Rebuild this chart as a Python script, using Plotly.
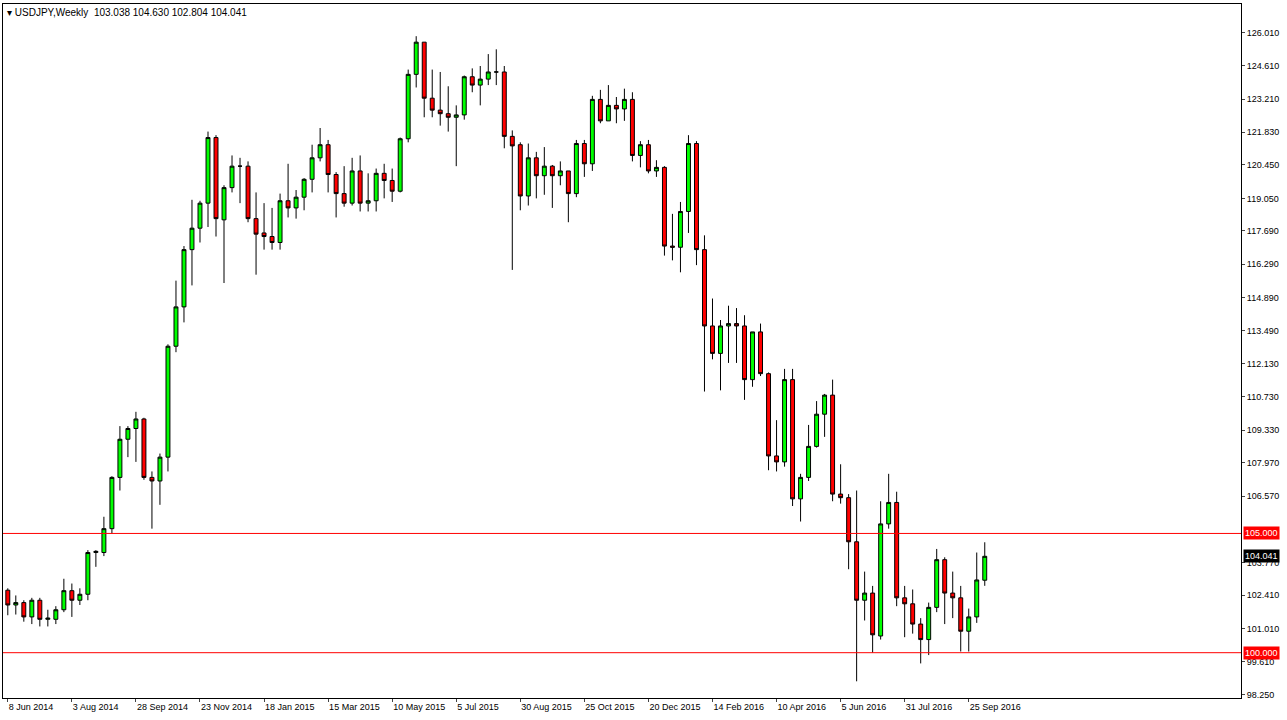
import datetime as dt
import plotly.graph_objects as go

# weekly USDJPY bars, first week 8 Jun 2014
opens = [102.62, 102.0, 102.1, 101.5, 102.2, 101.4, 101.4, 101.8, 102.6, 102.2,
         102.45, 104.2, 104.2, 105.2, 107.35, 108.95, 109.4, 109.8, 107.35, 107.2,
         108.2, 112.85, 114.5, 116.9, 117.8, 118.85, 121.6, 118.15, 119.5, 120.4,
         120.4, 118.2, 117.6, 117.45, 117.2, 118.95, 118.65, 119.1, 119.85, 120.75,
         121.3, 120.05, 119.25, 118.85, 120.2, 118.85, 118.95, 120.1, 119.8, 119.35,
         121.55, 124.25, 125.6, 123.25, 122.75, 122.6, 122.45, 122.55, 124.15, 123.8,
         124.05, 124.35, 124.35, 121.65, 121.3, 119.15, 120.75, 120.0, 120.4, 120.0,
         120.2, 119.25, 121.35, 120.5, 123.2, 122.3, 122.95, 122.8, 123.2, 120.85,
         121.3, 120.2, 120.35, 117.05, 117.0, 118.5, 121.35, 116.9, 113.7, 112.55,
         113.7, 113.8, 113.7, 111.45, 113.45, 111.7, 108.25, 108.0, 111.45, 106.45,
         107.35, 108.65, 110.0, 110.8, 106.65, 106.5, 104.65, 102.2, 102.5, 100.7,
         105.4, 106.3, 102.3, 102.05, 101.2, 100.55, 101.9, 103.9, 102.5, 102.3,
         100.9, 101.5, 103.038]
highs = [102.7, 102.4, 102.2, 102.3, 102.3, 101.8, 101.95, 103.1, 102.9, 102.7,
         104.3, 104.3, 105.7, 107.4, 109.5, 109.5, 110.1, 109.85, 107.6, 108.35,
         112.93, 115.6, 117.05, 118.99, 118.95, 121.85, 121.7, 119.6, 120.85, 120.75,
         120.6, 119.3, 118.85, 118.65, 119.25, 120.5, 119.4, 119.9, 121.3, 122.0,
         121.5, 120.15, 120.4, 120.75, 120.85, 120.1, 120.3, 120.5, 120.3, 121.6,
         124.45, 125.85, 125.6, 124.45, 124.35, 123.75, 122.95, 124.2, 124.5, 124.6,
         125.1, 125.3, 124.6, 121.9, 121.4, 121.35, 121.0, 121.2, 120.45, 120.6,
         120.2, 121.5, 121.5, 123.35, 123.6, 123.8, 123.3, 123.65, 123.5, 121.45,
         121.5, 120.65, 120.4, 118.4, 118.9, 121.7, 121.45, 117.5, 114.85, 113.95,
         114.55, 114.45, 114.15, 113.45, 113.8, 111.75, 109.75, 111.9, 111.9, 107.5,
         109.55, 110.55, 110.85, 111.45, 107.9, 106.65, 106.8, 103.4, 102.8, 106.35,
         107.5, 106.75, 102.8, 102.65, 101.45, 102.1, 104.35, 104.0, 103.4, 102.8,
         101.85, 104.2, 104.63]
lows = [101.57, 101.6, 101.3, 101.2, 101.1, 101.1, 101.2, 101.7, 101.5, 102.0,
        102.2, 103.6, 104.05, 105.0, 106.8, 108.2, 108.0, 107.25, 105.2, 106.2,
        107.6, 112.6, 113.85, 115.4, 117.2, 117.85, 117.45, 115.5, 119.3, 118.85,
        118.05, 115.85, 116.9, 116.9, 116.9, 118.25, 118.2, 118.55, 119.3, 120.6,
        119.3, 118.25, 118.7, 118.75, 118.5, 118.5, 118.5, 119.05, 118.9, 119.3,
        121.4, 123.7, 122.45, 122.45, 122.1, 121.85, 120.4, 122.35, 123.5, 122.95,
        123.8, 123.8, 121.15, 116.05, 118.55, 118.75, 119.05, 119.2, 118.65, 119.6,
        118.05, 119.1, 119.95, 120.2, 122.2, 122.3, 122.2, 122.3, 120.6, 120.35,
        120.1, 119.95, 116.65, 116.45, 115.95, 117.6, 116.25, 110.95, 112.3, 111.0,
        112.15, 112.15, 110.6, 111.15, 111.6, 107.65, 107.6, 107.8, 106.15, 105.5,
        107.2, 108.6, 109.05, 106.35, 106.25, 103.5, 98.8, 101.35, 100.0, 100.55,
        105.2, 101.95, 100.65, 100.8, 99.55, 99.9, 101.7, 101.2, 101.45, 100.05,
        100.05, 101.25, 102.804]
closes = [102.0, 102.1, 101.5, 102.2, 101.4, 101.45, 101.8, 102.6, 102.2, 102.45,
          104.2, 104.25, 105.2, 107.35, 108.95, 109.4, 109.8, 107.35, 107.2, 108.2,
          112.85, 114.5, 116.9, 117.8, 118.85, 121.6, 118.2, 119.5, 120.4, 120.4,
          118.2, 117.55, 117.45, 117.2, 118.95, 118.65, 119.1, 119.85, 120.75, 121.3,
          120.05, 119.25, 118.85, 120.2, 118.85, 118.95, 120.1, 119.8, 119.35, 121.55,
          124.25, 125.6, 123.25, 122.75, 122.6, 122.45, 122.55, 124.15, 123.8, 124.05,
          124.35, 124.35, 121.65, 121.25, 119.15, 120.75, 120.0, 120.4, 120.0, 120.2,
          119.25, 121.35, 120.5, 123.2, 122.3, 122.95, 122.8, 123.2, 120.85, 121.3,
          120.2, 120.35, 117.05, 117.0, 118.5, 121.35, 116.9, 113.7, 112.55, 113.7,
          113.8, 113.7, 111.45, 113.45, 111.7, 108.25, 108.0, 111.45, 106.45, 107.35,
          108.65, 110.0, 110.8, 106.65, 106.5, 104.65, 102.2, 102.5, 100.75, 105.4,
          106.3, 102.3, 102.05, 101.2, 100.55, 101.9, 103.9, 102.5, 102.3, 100.9,
          101.5, 103.05, 104.041]

price_ticks = [126.01, 124.61, 123.21, 121.83, 120.45, 119.05, 117.69, 116.29, 114.89,
               113.49, 112.13, 110.73, 109.33, 107.97, 106.57, 103.77, 102.41, 101.01,
               99.61, 98.25]
levels = [105.0, 100.0]

start = dt.date(2014, 6, 8)
dates = [start + dt.timedelta(weeks=i) for i in range(len(closes))]
idx = list(range(len(closes)))
tick_idx = idx[::8]
tick_txt = [f"{dates[i].day} {dates[i]:%b %Y}" for i in tick_idx]

fig = go.Figure(go.Candlestick(
    x=idx, open=opens, high=highs, low=lows, close=closes,
    increasing=dict(line=dict(color="black", width=1), fillcolor="#00ff00"),
    decreasing=dict(line=dict(color="black", width=1), fillcolor="#ff0000"),
    whiskerwidth=0, showlegend=False,
))

for lv in levels:
    fig.add_hline(y=lv, line=dict(color="#ff0000", width=1))
    fig.add_annotation(x=1, xref="paper", y=lv, yref="y", xanchor="left",
                       text=f"{lv:.3f}", showarrow=False, bgcolor="#ff0000",
                       font=dict(color="white", size=9, family="Liberation Sans"),
                       borderpad=1, xshift=2)
fig.add_annotation(x=1, xref="paper", y=closes[-1], yref="y", xanchor="left",
                   text=f"{closes[-1]:.3f}", showarrow=False, bgcolor="black",
                   font=dict(color="white", size=9, family="Liberation Sans"),
                   borderpad=1, xshift=2)
fig.add_annotation(x=0, xref="paper", y=1, yref="paper", xanchor="left", yanchor="top",
                   text="▾ USDJPY,Weekly  103.038 104.630 102.804 104.041",
                   showarrow=False, font=dict(color="black", size=10, family="Liberation Sans"),
                   xshift=2, yshift=-1)

fig.update_layout(
    width=1287, height=720,
    margin=dict(l=3, r=46, t=4, b=22, autoexpand=False),
    paper_bgcolor="white", plot_bgcolor="white",
    font=dict(family="Liberation Sans", size=9, color="black"),
    xaxis=dict(range=[-0.6, 154], tickvals=tick_idx, ticktext=tick_txt,
               showgrid=False, rangeslider=dict(visible=False), ticks="outside",
               ticklen=3, linecolor="black", mirror=True, showline=True,
               ticklabelposition="outside right", zeroline=False, automargin=False),
    yaxis=dict(range=[98.1, 127.2], side="right", tickvals=price_ticks,
               ticktext=[f"{v:.3f}" for v in price_ticks], showgrid=False,
               ticks="outside", ticklen=3, linecolor="black", mirror=True,
               showline=True, zeroline=False, automargin=False),
)

fig.write_html("out.html", config={"displayModeBar": False},
               post_script="document.body.style.margin='0';")
